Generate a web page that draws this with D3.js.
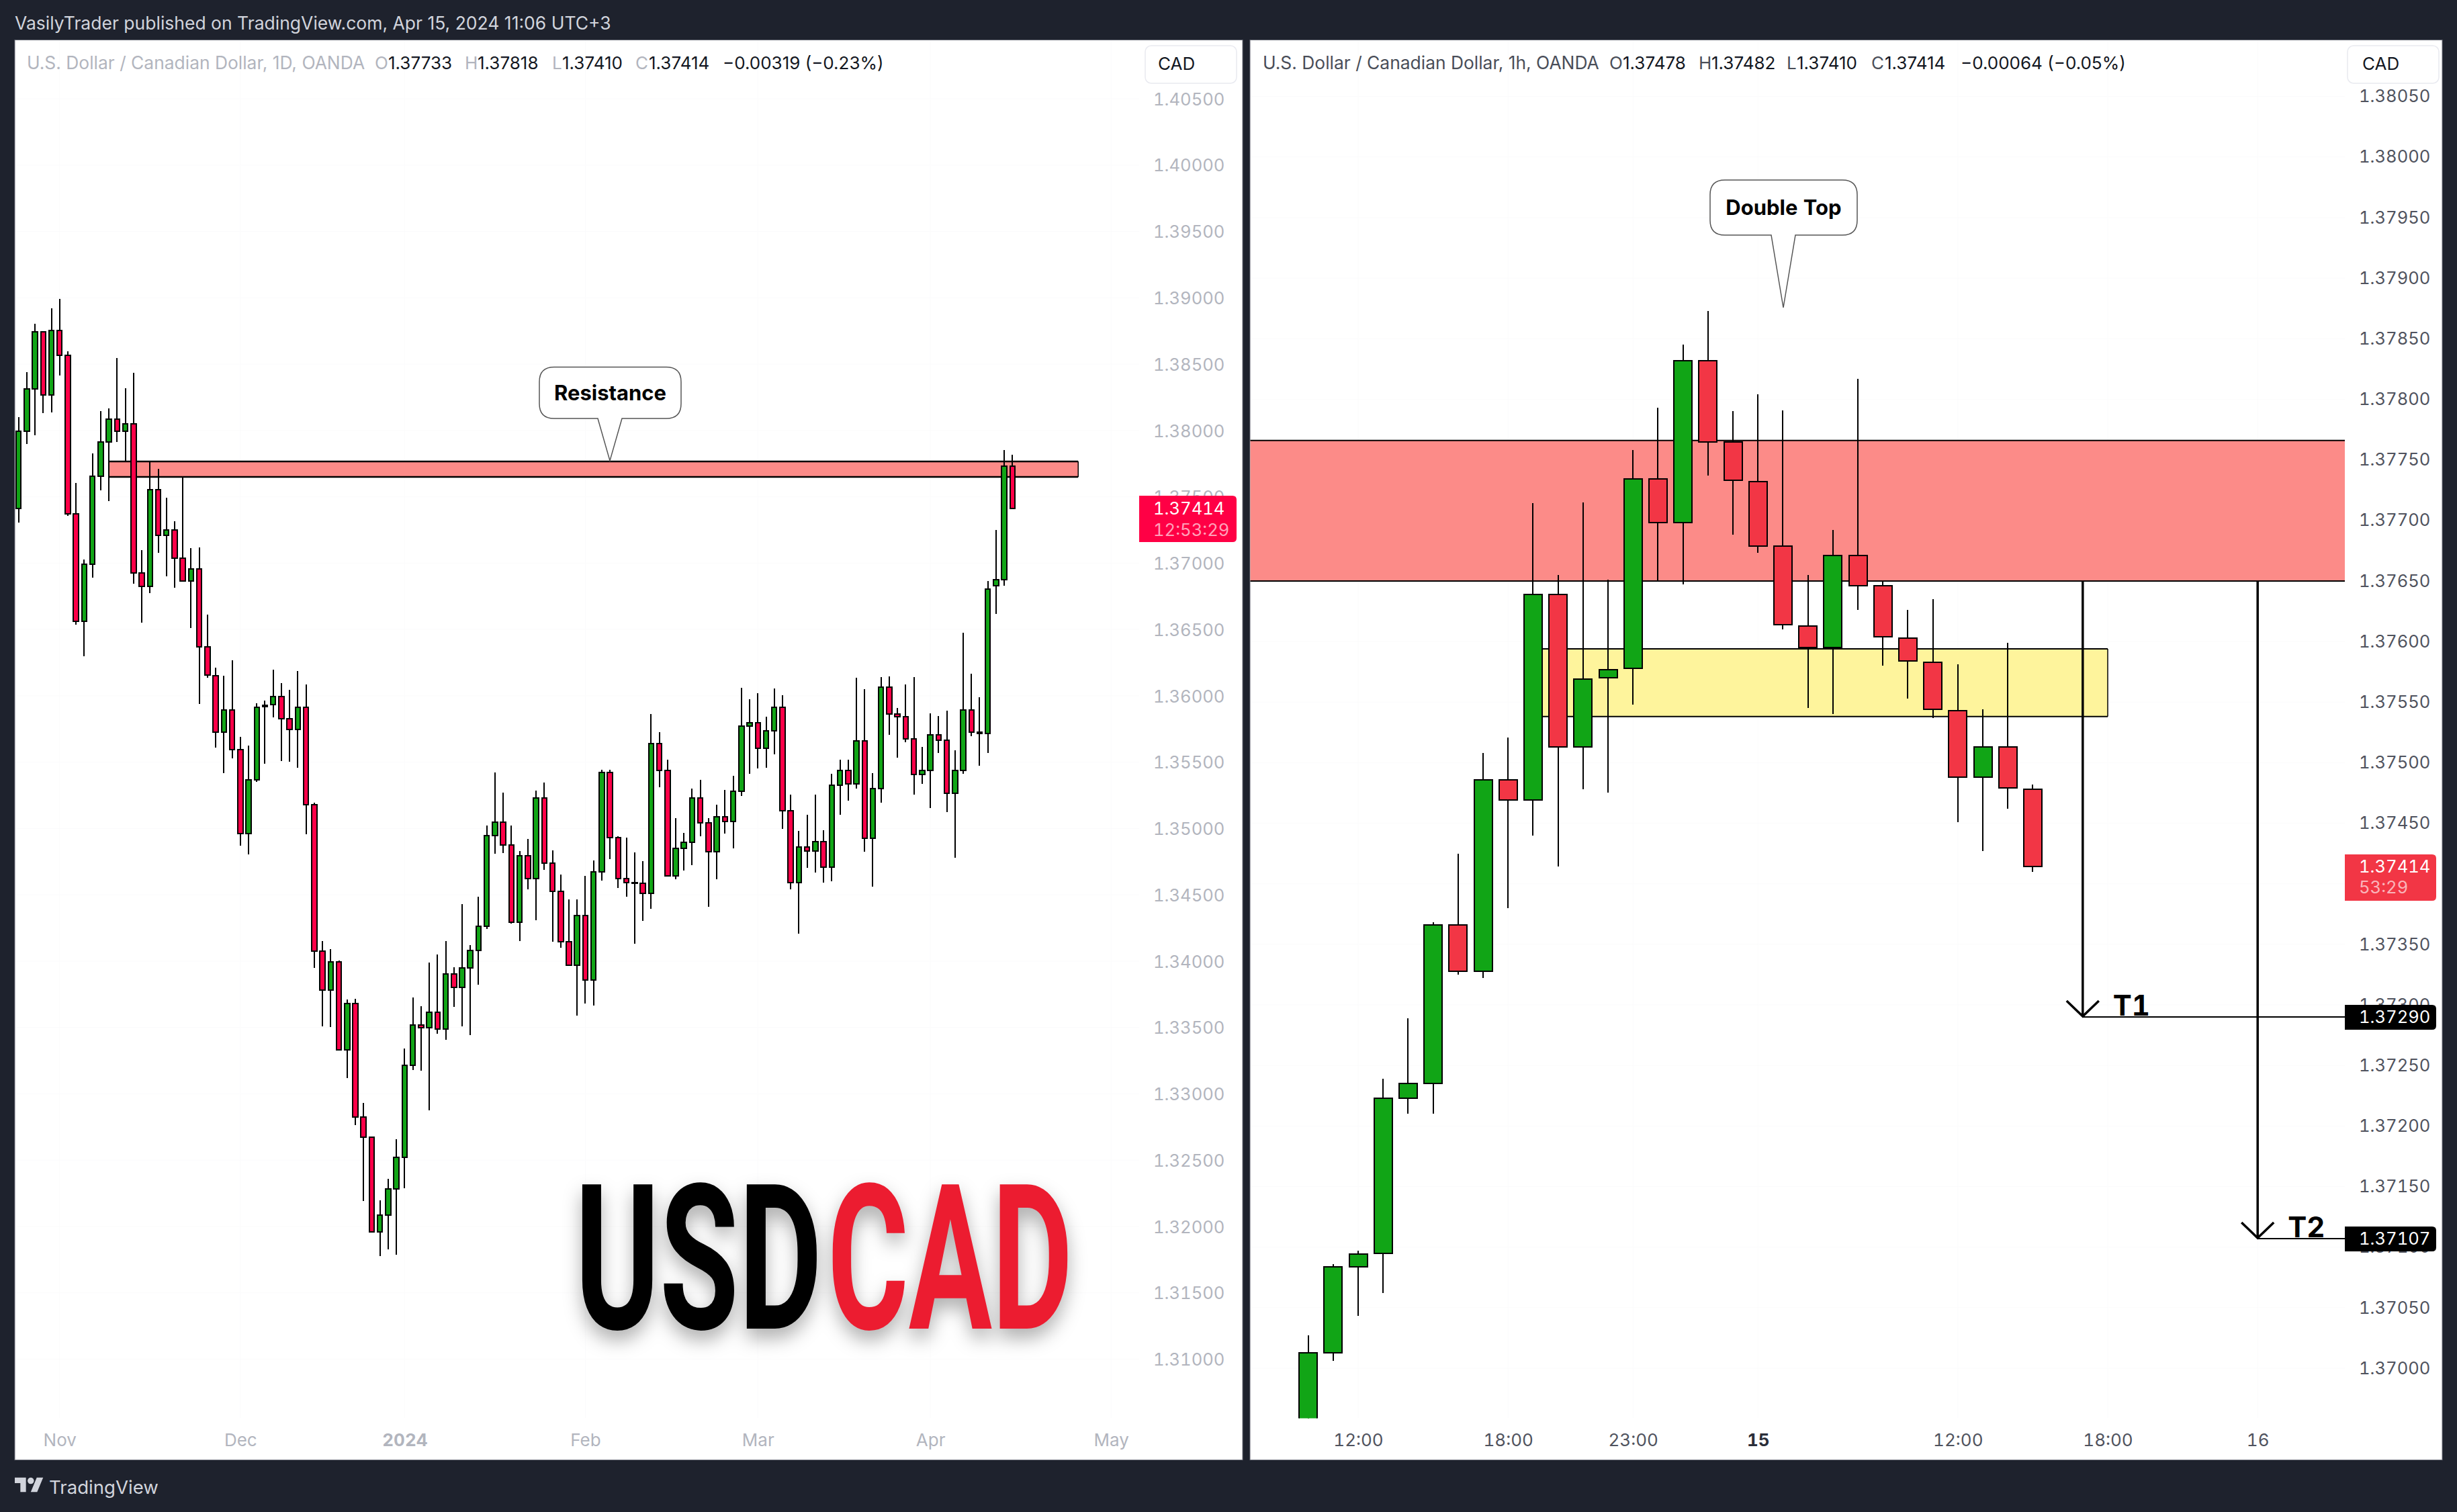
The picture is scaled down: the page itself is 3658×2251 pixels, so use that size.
<!DOCTYPE html>
<html>
<head>
<meta charset="utf-8">
<title>USDCAD</title>
<script src="https://cdnjs.cloudflare.com/ajax/libs/d3/7.8.5/d3.min.js"></script>
<style>
  html, body { margin: 0; padding: 0; background: #1e222d; }
  svg { display: block; }
  text { font-family: Inter, "Noto Sans", sans-serif; font-variant-numeric: tabular-nums; }
</style>
</head>
<body>
<svg id="chart" width="3658" height="2251"></svg>
<script>
// daily candles
var dailyOpen = [
  1.37411,1.37993,1.38315,1.38741,1.38267,1.38751,1.38565,1.37371,1.36562,1.36994,
  1.37654,1.37915,1.38084,1.37995,1.38052,1.36925,1.36825,1.37553,1.37210,1.37252,
  1.37036,1.36866,1.36958,1.36368,1.36152,1.35728,1.35894,1.35593,1.34963,1.35364,
  1.35919,1.35934,1.35996,1.35828,1.35746,1.35911,1.35180,1.34075,1.33782,1.33997,
  1.33332,1.33679,1.32824,1.32674,1.31960,1.32088,1.32285,1.32523,1.33217,1.33521,
  1.33497,1.33617,1.33489,1.33901,1.33803,1.33948,1.34080,1.34265,1.34945,1.35046,
  1.34875,1.34291,1.34792,1.34622,1.35231,1.34741,1.34527,1.34147,1.33971,1.34345,
  1.33857,1.34671,1.35420,1.34933,1.34621,1.34592,1.34589,1.34510,1.35642,1.35437,
  1.34645,1.34848,1.34896,1.35231,1.35042,1.34824,1.35090,1.35051,1.35282,1.35774,
  1.35799,1.35604,1.35737,1.35915,1.35133,1.34592,1.34861,1.34830,1.34902,1.34709,
  1.35328,1.35439,1.35338,1.35662,1.34925,1.35303,1.36063,1.35863,1.35842,1.35675,
  1.35406,1.35435,1.35708,1.35664,1.35264,1.35435,1.35894,1.35726,1.35718,1.36830,
  1.36876,1.37733
];
var dailyHigh = [
  1.38100,1.38439,1.38803,1.38745,1.38921,1.38992,1.38596,1.37604,1.37028,1.37828,
  1.38147,1.38167,1.38547,1.38319,1.38434,1.37099,1.37769,1.37711,1.37494,1.37316,
  1.37647,1.37114,1.37119,1.36614,1.36213,1.36152,1.36268,1.35691,1.35625,1.35942,
  1.35965,1.36195,1.36097,1.36046,1.36185,1.36084,1.35193,1.34149,1.34092,1.34007,
  1.33713,1.33717,1.32930,1.32674,1.32196,1.32358,1.32657,1.33340,1.33727,1.33661,
  1.33992,1.34051,1.34152,1.33956,1.34431,1.34122,1.34485,1.35023,1.35423,1.35271,
  1.35023,1.34831,1.34922,1.35286,1.35348,1.34837,1.34653,1.34467,1.34467,1.34643,
  1.34760,1.35443,1.35443,1.34940,1.34932,1.34819,1.34754,1.35861,1.35726,1.35519,
  1.35077,1.34966,1.35301,1.35367,1.35079,1.35177,1.35290,1.35396,1.36059,1.35976,
  1.36018,1.35842,1.36053,1.36003,1.35255,1.34982,1.35104,1.35253,1.34987,1.35412,
  1.35518,1.35518,1.36137,1.36051,1.35416,1.36142,1.36146,1.35908,1.36086,1.36142,
  1.35615,1.35869,1.35848,1.35889,1.35590,1.36476,1.36167,1.35989,1.36866,1.37251,
  1.37853,1.37818
];
var dailyLow = [
  1.37308,1.37900,1.37966,1.38133,1.38138,1.38412,1.37358,1.36534,1.36296,1.36888,
  1.37546,1.37470,1.37915,1.37769,1.36847,1.36549,1.36776,1.37080,1.36898,1.36812,
  1.36866,1.36511,1.35939,1.36138,1.35609,1.35415,1.35526,1.34872,1.34803,1.35352,
  1.35490,1.35838,1.35510,1.35505,1.35456,1.34955,1.33948,1.33506,1.33501,1.33332,
  1.33121,1.32766,1.32194,1.31960,1.31779,1.31830,1.31789,1.32290,1.33181,1.33175,
  1.32878,1.33455,1.33409,1.33656,1.33511,1.33441,1.33824,1.34245,1.34808,1.34813,
  1.34281,1.34152,1.34539,1.34307,1.34687,1.34144,1.34103,1.33965,1.33591,1.33682,
  1.33664,1.34609,1.34770,1.34551,1.34484,1.34133,1.34305,1.34395,1.35313,1.34645,
  1.34615,1.34683,1.34726,1.34941,1.34412,1.34619,1.34959,1.34852,1.35247,1.35414,
  1.35454,1.35460,1.35557,1.34995,1.34543,1.34205,1.34701,1.34669,1.34594,1.34600,
  1.35105,1.35212,1.35303,1.34823,1.34563,1.35196,1.35708,1.35532,1.35652,1.35253,
  1.35334,1.35152,1.35567,1.35121,1.34780,1.35410,1.35698,1.35473,1.35567,1.36615,
  1.36830,1.37410
];
var dailyClose = [
  1.37993,1.38315,1.38741,1.38267,1.38751,1.38565,1.37371,1.36562,1.36994,1.37654,
  1.37915,1.38084,1.37995,1.38052,1.36925,1.36825,1.37553,1.37210,1.37252,1.37036,
  1.36866,1.36958,1.36368,1.36157,1.35728,1.35894,1.35593,1.34963,1.35364,1.35914,
  1.35929,1.35996,1.35828,1.35746,1.35911,1.35180,1.34075,1.33782,1.33997,1.33332,
  1.33679,1.32824,1.32674,1.31960,1.32088,1.32285,1.32523,1.33217,1.33521,1.33497,
  1.33617,1.33489,1.33901,1.33803,1.33948,1.34080,1.34265,1.34945,1.35046,1.34875,
  1.34291,1.34792,1.34622,1.35231,1.34741,1.34527,1.34147,1.33971,1.34345,1.33857,
  1.34671,1.35420,1.34933,1.34621,1.34592,1.34589,1.34510,1.35642,1.35437,1.34645,
  1.34848,1.34896,1.35231,1.35042,1.34824,1.35090,1.35051,1.35282,1.35774,1.35799,
  1.35604,1.35737,1.35915,1.35133,1.34592,1.34861,1.34830,1.34902,1.34709,1.35328,
  1.35439,1.35338,1.35662,1.34925,1.35303,1.36063,1.35863,1.35842,1.35675,1.35406,
  1.35435,1.35708,1.35664,1.35264,1.35435,1.35894,1.35726,1.35718,1.36805,1.36876,
  1.37733,1.37414
];

// hourly candles, right pane
var hourlyOpen = [
  1.36950,1.37013,1.37084,1.37095,1.37223,1.37235,1.37366,1.37328,1.37486,1.37469,
  1.37639,1.37513,1.37570,1.37578,1.37734,1.37698,1.37832,1.37765,1.37732,1.37679,
  1.37613,1.37595,1.37671,1.37646,1.37603,1.37583,1.37543,1.37488,1.37513,1.37478
];
var hourlyHigh = [
  1.37027,1.37086,1.37097,1.37239,1.37289,1.37368,1.37425,1.37508,1.37521,1.37714,
  1.37655,1.37715,1.37651,1.37758,1.37793,1.37845,1.37873,1.37790,1.37804,1.37791,
  1.37655,1.37692,1.37817,1.37650,1.37626,1.37635,1.37581,1.37544,1.37599,1.37482
];
var hourlyLow = [
  1.36940,1.37006,1.37043,1.37062,1.37210,1.37210,1.37325,1.37322,1.37380,1.37440,
  1.37414,1.37478,1.37475,1.37548,1.37650,1.37647,1.37737,1.37688,1.37673,1.37610,
  1.37545,1.37540,1.37626,1.37580,1.37553,1.37537,1.37451,1.37427,1.37462,1.37410
];
var hourlyClose = [
  1.37013,1.37084,1.37094,1.37223,1.37235,1.37366,1.37328,1.37486,1.37469,1.37639,
  1.37513,1.37569,1.37577,1.37734,1.37698,1.37832,1.37765,1.37733,1.37679,1.37614,
  1.37595,1.37671,1.37646,1.37604,1.37584,1.37544,1.37488,1.37513,1.37479,1.37414
];

var dailyTicks = [1.405,1.40,1.395,1.39,1.385,1.38,1.375,1.37,1.365,1.36,1.355,1.35,1.345,1.34,1.335,1.33,1.325,1.32,1.315,1.31];
var hourlyTicks = [1.3805,1.38,1.3795,1.379,1.3785,1.378,1.3775,1.377,1.3765,1.376,1.3755,1.375,1.3745,1.374,1.3735,1.373,1.3725,1.372,1.3715,1.371,1.3705,1.37];
var dailyTimeIdx = [5,27,47,69,90,111,133];
var dailyTimeLabels = ['Nov','Dec','2024','Feb','Mar','Apr','May'];
var dailyTimeBold = ['2024'];
var hourlyTimeIdx = [2,8,13,18,26,32,38];
var hourlyTimeLabels = ['12:00','18:00','23:00','15','12:00','18:00','16'];
var hourlyTimeBold = ['15'];

var resistanceZone = [1.37650, 1.37766];
var dailyZoneIdx = [11, 129];
var yellowZone = [1.37538, 1.37594];
var yellowZoneIdx = [9, 32];
var targetIdx = [31, 38];
var targetPrice = [1.37290, 1.37107];
var targetLabel = ['T1', 'T2'];

var INK = '#000';
var DAILY_RED = '#ff0048', HOURLY_RED = '#f23645', GREEN = '#11a516';

function zipCandles(o, h, l, c) {
  return o.map(function(v, i) {
    return {i: i, open: v, high: h[i], low: l[i], close: c[i]};
  });
}

var svg = d3.select('#chart');

// panes
function pane(x, w) {
  svg.append('rect').attr('x', x).attr('y', 59.5).attr('width', w).attr('height', 2114)
    .attr('fill', '#fff').attr('stroke', '#6a6d78').attr('stroke-width', 1);
}
pane(22, 1828);
pane(1861, 1775);

var defs = svg.append('defs');
defs.append('clipPath').attr('id', 'clipRight').append('rect')
  .attr('x', 1861).attr('y', 60).attr('width', 1630).attr('height', 2051.5);

var xDaily = d3.scaleLinear().domain([0, 121]).range([27.6, 1507.4]);
var yDaily = d3.scaleLinear().domain([1.31, 1.405]).range([2023.5, 147]);
var xHourly = d3.scaleLinear().domain([0, 29]).range([1947.6, 3026.4]);
var yHourly = d3.scaleLinear().domain([1.37, 1.3805]).range([2037, 143.6]);

function grid(x, y, xTicks, yTicks, x0, x1) {
  var g = svg.append('g').attr('stroke', '#fbfbfc').attr('stroke-width', 1);
  g.selectAll('.h').data(yTicks).enter().append('line').attr('class', 'h')
    .attr('x1', x0).attr('x2', x1).attr('y1', y).attr('y2', y);
  g.selectAll('.v').data(xTicks).enter().append('line').attr('class', 'v')
    .attr('x1', x).attr('x2', x).attr('y1', 60).attr('y2', 2111);
}
grid(xDaily, yDaily, dailyTimeIdx, dailyTicks, 23, 1696);
grid(xHourly, yHourly, hourlyTimeIdx, hourlyTicks, 1862, 3491);

function zone(x0, x1, p, fill, sw) {
  var y = p.y;
  svg.append('rect').attr('x', x0).attr('width', x1 - x0)
    .attr('y', y(p.hi)).attr('height', y(p.lo) - y(p.hi))
    .attr('fill', fill);
  svg.selectAll(null).data([p.hi, p.lo]).enter().append('line')
    .attr('x1', x0).attr('x2', x1)
    .attr('y1', y).attr('y2', y)
    .attr('stroke', INK).attr('stroke-width', sw);
}
zone(xDaily(dailyZoneIdx[0]), xDaily(dailyZoneIdx[1]), {y: yDaily, lo: resistanceZone[0], hi: resistanceZone[1]}, '#fc8b88', 2.5);
svg.append('line').attr('x1', xDaily(dailyZoneIdx[0])).attr('x2', xDaily(dailyZoneIdx[0]))
  .attr('y1', yDaily(resistanceZone[1])).attr('y2', yDaily(resistanceZone[0])).attr('stroke', INK).attr('stroke-width', 1.5);
svg.append('line').attr('x1', xDaily(dailyZoneIdx[1])).attr('x2', xDaily(dailyZoneIdx[1]))
  .attr('y1', yDaily(resistanceZone[1])).attr('y2', yDaily(resistanceZone[0])).attr('stroke', INK).attr('stroke-width', 1.5);
zone(1861.5, 3491, {y: yHourly, lo: resistanceZone[0], hi: resistanceZone[1]}, '#fc8b88', 2);
zone(xHourly(yellowZoneIdx[0]), xHourly(yellowZoneIdx[1]), {y: yHourly, lo: yellowZone[0], hi: yellowZone[1]}, '#fef49c', 2);
svg.append('line').attr('x1', xHourly(yellowZoneIdx[1])).attr('x2', xHourly(yellowZoneIdx[1]))
  .attr('y1', yHourly(yellowZone[1])).attr('y2', yHourly(yellowZone[0])).attr('stroke', INK).attr('stroke-width', 1.5);

function candles(data, x, y, w, red, clip) {
  var g = svg.append('g').attr('shape-rendering', 'crispEdges');
  if (clip) g.attr('clip-path', 'url(#' + clip + ')');
  var c = g.selectAll('g').data(data).enter().append('g');
  c.append('line')
    .attr('x1', function(d) { return x(d.i); })
    .attr('x2', function(d) { return x(d.i); })
    .attr('y1', function(d) { return y(d.high); })
    .attr('y2', function(d) { return y(d.low); })
    .attr('stroke', INK).attr('stroke-width', 2);
  c.append('rect')
    .attr('x', function(d) { return x(d.i) - w / 2; })
    .attr('width', w)
    .attr('y', function(d) { return y(Math.max(d.open, d.close)); })
    .attr('height', function(d) { return Math.max(1, Math.abs(y(d.open) - y(d.close))); })
    .attr('fill', function(d) { return d.close >= d.open ? GREEN : red; })
    .attr('stroke', INK).attr('stroke-width', 2);
}
candles(zipCandles(dailyOpen, dailyHigh, dailyLow, dailyClose), xDaily, yDaily, 7.5, DAILY_RED);
candles(zipCandles(hourlyOpen, hourlyHigh, hourlyLow, hourlyClose), xHourly, yHourly, 27, HOURLY_RED, 'clipRight');

// price axes
function priceAxis(y, ticks, x, dy, color) {
  var g = svg.append('g').attr('transform', 'translate(' + x + ',' + dy + ')')
    .call(d3.axisRight(y).tickValues(ticks).tickSize(0).tickPadding(0).tickFormat(d3.format('.5f')));
  g.select('.domain').remove();
  g.selectAll('text').attr('fill', color).style('font-size', '25.6px').style('font-family', 'Inter');
}
priceAxis(yDaily, dailyTicks, 1717, 1, '#b2b5be');
priceAxis(yHourly, hourlyTicks, 3512, 0, '#50535e');

// time axes
function timeAxis(x, idx, labels, bold, color, boldColor) {
  var g = svg.append('g').attr('transform', 'translate(0,2135)')
    .call(d3.axisBottom(x).tickValues(idx).tickSize(0).tickPadding(0)
      .tickFormat(function(d, i) { return labels[i]; }));
  g.select('.domain').remove();
  g.selectAll('text')
    .style('font-size', '26px').style('font-family', 'Inter')
    .attr('fill', function(d, i) { return bold.indexOf(labels[i]) >= 0 ? boldColor : color; })
    .attr('font-weight', function(d, i) { return bold.indexOf(labels[i]) >= 0 ? 700 : 400; });
}
timeAxis(xDaily, dailyTimeIdx, dailyTimeLabels, dailyTimeBold, '#b2b5be', '#b2b5be');
timeAxis(xHourly, hourlyTimeIdx, hourlyTimeLabels, hourlyTimeBold, '#50535e', '#2a2e39');

function label(x, y, str, size, fill, weight, anchor) {
  return svg.append('text').attr('x', x).attr('y', y).attr('dy', '.35em')
    .attr('font-size', size).attr('fill', fill)
    .attr('font-weight', weight || 400).attr('text-anchor', anchor || 'start')
    .text(str);
}

// currency boxes
[[1705, 1724], [3495, 3517]].forEach(function(b) {
  svg.append('rect').attr('x', b[0]).attr('y', 68).attr('width', 136).attr('height', 56).attr('rx', 9)
    .attr('fill', '#fff').attr('stroke', '#e9eaf0').attr('stroke-width', 1.5);
  label(b[1], 95, 'CAD', 26, '#131722');
});

// last price tags
function tag(x0, x1, y0, y1, fill, lines, textX) {
  var w = x1 - x0, h = y1 - y0;
  svg.append('path')
    .attr('d', 'M' + x0 + ' ' + y0 + 'h' + (w - 6) + 'q6 0 6 6v' + (h - 12) + 'q0 6 -6 6h' + (6 - w) + 'z')
    .attr('fill', fill);
  lines.forEach(function(l) { label(textX, l[0], l[1], 25.6, l[2]); });
}
tag(1696, 1841, 738, 807, '#ff0045', [[757, '1.37414', '#fff'], [789, '12:53:29', 'rgba(255,255,255,.65)']], 1717);
tag(3491, 3627, 1272, 1341, HOURLY_RED, [[1290, '1.37414', '#fff'], [1321, '53:29', 'rgba(255,255,255,.65)']], 3512);

// targets
targetIdx.forEach(function(ix, k) {
  var x = xHourly(ix), tip = yHourly(targetPrice[k]);
  svg.append('line').attr('x1', x).attr('x2', 3491).attr('y1', tip).attr('y2', tip)
    .attr('stroke', INK).attr('stroke-width', 2);
  svg.append('line').attr('x1', x).attr('x2', x).attr('y1', yHourly(resistanceZone[0])).attr('y2', tip - 1)
    .attr('stroke', INK).attr('stroke-width', 3.5);
  svg.append('path').attr('d', 'M' + (x - 24) + ' ' + (tip - 24) + 'L' + x + ' ' + (tip - 1) + 'L' + (x + 24) + ' ' + (tip - 24))
    .attr('fill', 'none').attr('stroke', INK).attr('stroke-width', 3.5);
  svg.append('text').attr('x', x + 45).attr('y', tip - 2)
    .attr('font-size', 42).attr('font-weight', 700).attr('fill', INK).text(targetLabel[k]);
  tag(3491, 3627, tip - 18, tip + 19, INK, [[tip, targetPrice[k].toFixed(5), '#fff']], 3512);
});

// callouts
function callout(x0, x1, y0, y1, tx, tipY, str) {
  var r = 22, hw = 18;
  var d = 'M' + (x0 + r) + ' ' + y0 + 'H' + (x1 - r) + 'Q' + x1 + ' ' + y0 + ' ' + x1 + ' ' + (y0 + r) +
    'V' + (y1 - r) + 'Q' + x1 + ' ' + y1 + ' ' + (x1 - r) + ' ' + y1 +
    'H' + (tx + hw) + 'L' + tx + ' ' + tipY + 'L' + (tx - hw) + ' ' + y1 +
    'H' + (x0 + r) + 'Q' + x0 + ' ' + y1 + ' ' + x0 + ' ' + (y1 - r) +
    'V' + (y0 + r) + 'Q' + x0 + ' ' + y0 + ' ' + (x0 + r) + ' ' + y0 + 'Z';
  svg.append('path').attr('d', d).attr('fill', '#fff').attr('stroke', '#555').attr('stroke-width', 1.5);
  label((x0 + x1) / 2, (y0 + y1) / 2, str, 31, INK, 700, 'middle');
}
callout(803, 1014, 546.5, 623, 908, yDaily(1.37772), 'Resistance');
callout(2546, 2765, 268, 350, 2655, 458, 'Double Top');

// legends use proportional digits
function legend(y, parts) {
  parts.forEach(function(p) {
    label(p[0], y, p[1], p[3] || 26, p[2]).style('font-variant-numeric', 'normal');
  });
}
var gray = '#b2b5be', dark = '#131722', mid = '#4a4e59';
legend(93.5, [
  [40, 'U.S. Dollar / Canadian Dollar, 1D, OANDA', gray, 26.4],
  [558, 'O', gray], [578, '1.37733', dark],
  [692, 'H', gray], [711, '1.37818', dark],
  [822, 'L', gray], [837, '1.37410', dark],
  [946, 'C', gray], [966, '1.37414', dark],
  [1076, '\u22120.00319 (\u22120.23%)', dark]
]);
legend(93.5, [
  [1880, 'U.S. Dollar / Canadian Dollar, 1h, OANDA', mid, 26.4],
  [2396, 'O', mid], [2416, '1.37478', dark],
  [2529, 'H', mid], [2548, '1.37482', dark],
  [2660, 'L', mid], [2675, '1.37410', dark],
  [2786, 'C', mid], [2806, '1.37414', dark],
  [2919, '\u22120.00064 (\u22120.05%)', dark]
]);

// USDCAD logo
var logo = svg.append('g').style('filter', 'drop-shadow(0 14px 14px rgba(0,0,0,.32))');
[['USD', 856, 368, '#000'], ['CAD', 1232, 365, '#ec1c30']].forEach(function(w) {
  logo.append('text').attr('x', w[1]).attr('y', 1978)
    .attr('font-size', 302).attr('font-weight', 700).attr('fill', w[3])
    .attr('textLength', w[2]).attr('lengthAdjust', 'spacingAndGlyphs')
    .style('font-family', 'Roboto')
    .text(w[0]);
});

// header and footer
label(22, 35, 'VasilyTrader published on TradingView.com, Apr 15, 2024 11:06 UTC+3', 26.5, '#d1d4dc')
  .style('font-variant-numeric', 'normal');
svg.append('g').attr('transform', 'translate(22,2195) scale(1.19)').attr('fill', '#d1d4dc')
  .call(function(g) {
    g.append('path').attr('d', 'M14 22H7V11H0V4h14v18zM28 22h-8l7.5-18h8L28 22z');
    g.append('circle').attr('cx', 20).attr('cy', 8).attr('r', 4);
  });
label(73, 2214, 'TradingView', 27.6, '#d1d4dc');
</script>
</body>
</html>
